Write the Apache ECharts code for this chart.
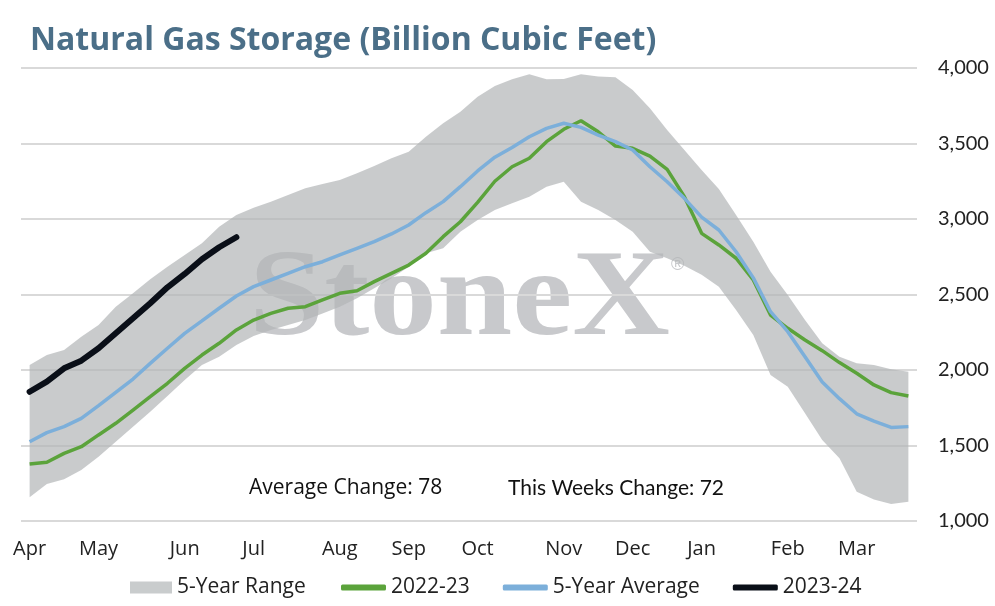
<!DOCTYPE html>
<html>
<head>
<meta charset="utf-8">
<script src="https://cdn.jsdelivr.net/npm/echarts@6/dist/echarts.min.js"></script>
<style>html,body{margin:0;padding:0;background:#fff;}#c{width:995px;height:606px;}</style>
</head>
<body>
<div id="c"></div>
<script>
// Weekly data, early April through late March (52 weeks)
const weeks = Array.from({length: 52}, (_, i) => 'W' + (i + 1));
const tickIndex = [0, 4, 9, 13, 18, 22, 26, 31, 35, 39, 44, 48];
const tickLabels = ['Apr', 'May', 'Jun', 'Jul', 'Aug', 'Sep', 'Oct', 'Nov', 'Dec', 'Jan', 'Feb', 'Mar'];

const rangeLow = [1157,1245,1276,1338,1426,1525,1625,1724,1828,1934,2033,2088,2166,2225,2265,2298,2331,2375,2419,2475,2541,2607,2684,2773,2806,2916,2993,3060,3104,3148,3214,3247,3115,3060,2993,2916,2783,2740,2690,2630,2552,2397,2232,1967,1889,1713,1536,1415,1194,1143,1113,1128];
const rangeHigh = [2033,2099,2132,2221,2298,2419,2508,2601,2684,2762,2839,2949,3026,3075,3115,3159,3203,3232,3258,3303,3351,3402,3446,3545,3634,3711,3810,3880,3925,3958,3925,3927,3958,3943,3938,3854,3733,3589,3457,3325,3198,3026,2850,2651,2497,2331,2177,2088,2044,2033,2005,1989];
const s2022 = [1377,1389,1448,1492,1570,1647,1735,1823,1912,2011,2099,2177,2265,2331,2375,2409,2419,2464,2508,2525,2585,2640,2695,2773,2883,2982,3110,3250,3346,3402,3512,3594,3651,3578,3483,3468,3417,3329,3148,2905,2828,2740,2596,2364,2276,2199,2128,2049,1978,1901,1850,1828];
const avg5 = [1525,1585,1625,1680,1764,1852,1940,2044,2144,2243,2325,2409,2490,2552,2596,2640,2684,2717,2762,2806,2850,2901,2960,3042,3115,3214,3318,3409,3474,3545,3600,3634,3607,3556,3512,3457,3346,3247,3137,3012,2927,2783,2610,2386,2254,2088,1920,1810,1710,1662,1620,1625];
const s2023 = [1856,1923,2011,2062,2144,2243,2342,2442,2548,2636,2733,2813,2879];

const yTicks = {min: 1000, max: 4000, interval: 500};

const rangeDiff = rangeHigh.map((h, i) => h - rangeLow[i]);
const labelMap = {};
tickIndex.forEach((idx, k) => { labelMap[idx] = tickLabels[k]; });

const chart = echarts.init(document.getElementById('c'), null, {renderer: 'canvas'});
const sans = "'Open Sans', 'Noto Sans', sans-serif";
chart.setOption({
  animation: false,
  backgroundColor: '#ffffff',
  title: {
    text: 'Natural Gas Storage (Billion Cubic Feet)',
    left: 25, top: 20,
    textStyle: {fontFamily: sans, fontWeight: 'bold', fontSize: 32, color: '#4b6f88'}
  },
  grid: {left: 21, right: 78, top: 68, bottom: 85, containLabel: false},
  xAxis: {
    type: 'category',
    data: weeks,
    boundaryGap: true,
    axisLine: {show: false},
    axisTick: {show: false},
    splitLine: {show: false},
    axisLabel: {
      interval: 0, margin: 18,
      fontFamily: sans, fontSize: 20, color: '#222',
      formatter: (v, i) => labelMap[i] || ''
    }
  },
  yAxis: {
    type: 'value', position: 'right',
    min: yTicks.min, max: yTicks.max, interval: yTicks.interval,
    axisLine: {show: false}, axisTick: {show: false},
    axisLabel: {margin: 21, fontFamily: 'Lato', fontSize: 20, color: '#222',
      formatter: v => v.toLocaleString('en-US')},
    splitLine: {lineStyle: {color: '#d9d9d9', width: 2}}
  },
  legend: [
    {
      data: [{name: '5-Year Range', icon: 'rect'}],
      left: 125, top: 572, itemWidth: 42, itemHeight: 12,
      textStyle: {fontFamily: sans, fontSize: 21, color: '#222'},
      selectedMode: false
    },
    {
      data: [{name: '2022-23', icon: 'roundRect'}, {name: '5-Year Average', icon: 'roundRect'}, {name: '2023-24', icon: 'roundRect'}],
      left: 336, top: 572, itemWidth: 45, itemHeight: 6, itemGap: 33,
      textStyle: {fontFamily: sans, fontSize: 21, color: '#222'},
      selectedMode: false
    }
  ],
  graphic: [
    {type: 'text', z: -1, silent: true, left: 249, top: 241, scaleX: 1.1,
      style: {text: 'StoneX', font: "bold 123px 'Liberation Serif', serif", fill: '#c8c9cc'}},
    {type: 'text', z: -1, silent: true, left: 671, top: 256,
      style: {text: '®', font: "18px 'Liberation Sans', sans-serif", fill: '#c8c9cc'}},
    {type: 'text', z: 10, silent: true, left: 249, top: 478,
      style: {text: 'Average Change: 78', font: "21px 'Open Sans', sans-serif", fill: '#111'}},
    {type: 'text', z: 10, silent: true, left: 508, top: 478,
      style: {text: 'This Weeks Change: 72', font: "21px Lato, sans-serif", fill: '#111'}}
  ],
  series: [
    {name: 'rangeBase', type: 'line', stack: 'range', data: rangeLow, symbol: 'none', silent: true,
      lineStyle: {opacity: 0}, z: 2},
    {name: '5-Year Range', type: 'line', stack: 'range', data: rangeDiff, symbol: 'none', silent: true,
      lineStyle: {opacity: 0}, itemStyle: {color: '#c9cccd'},
      areaStyle: {color: 'rgba(178,181,183,0.7)', opacity: 1}, z: 2},
    {name: '2022-23', type: 'line', data: s2022, symbol: 'none', z: 3,
      lineStyle: {color: '#5ba33b', width: 3.5}, itemStyle: {color: '#5ba33b'}},
    {name: '5-Year Average', type: 'line', data: avg5, symbol: 'none', z: 3,
      lineStyle: {color: '#7cafda', width: 3.5}, itemStyle: {color: '#7cafda'}},
    {name: '2023-24', type: 'line', data: s2023, symbol: 'none', z: 4,
      lineStyle: {color: '#0a0f18', width: 6, cap: 'round'}, itemStyle: {color: '#0a0f18'}}
  ]
});
</script>
</body>
</html>
